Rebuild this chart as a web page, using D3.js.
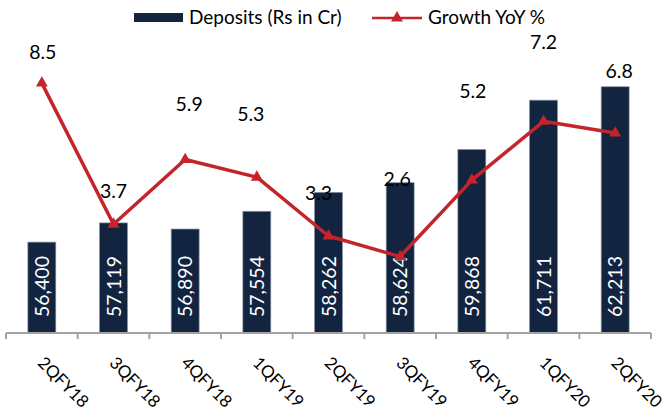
<!DOCTYPE html>
<html>
<head>
<meta charset="utf-8">
<script src="https://cdn.jsdelivr.net/npm/d3@7"></script>
<style>
  body { margin: 0; background: #fff; }
  svg { display: block; font-family: Lato, "Open Sans", sans-serif; }
</style>
</head>
<body>
<svg width="670" height="411"></svg>
<script>
// data
let quarters = ["2QFY18", "3QFY18", "4QFY18", "1QFY19", "2QFY19", "3QFY19", "4QFY19", "1QFY20", "2QFY20"];
let deposits = [56400, 57119, 56890, 57554, 58262, 58624, 59868, 61711, 62213];
let growth = [8.5, 3.7, 5.9, 5.3, 3.3, 2.6, 5.2, 7.2, 6.8];

// growth labels were moved by hand in the original, keep their offsets (px)
let labelDx = [1, 0, 4, -6, -10, -3, 1, 0, 4];
let labelDy = [-31, -33, -56, -63, -43, -78, -89, -79, -62];

let navy = "#12243f",
  red = "#c3252b";

let svg = d3.select("svg"),
  width = +svg.attr("width"),
  height = +svg.attr("height");

let baseY = 333, topY = 39;

let x = d3.scaleBand()
  .domain(quarters)
  .range([6, 651]);

let y = d3.scaleLinear()
  .domain([53000, 64000])
  .range([baseY, topY]);

let y2 = d3.scaleLinear()
  .domain([0, 10])
  .range([baseY, topY]);

let barW = x.bandwidth() * 0.39;
let cx = d => x(d) + x.bandwidth() / 2;

// bars
svg.selectAll(".bar")
  .data(quarters)
  .enter().append("rect")
  .attr("class", "bar")
  .attr("x", d => cx(d) - barW / 2)
  .attr("y", (d, i) => y(deposits[i]))
  .attr("width", barW)
  .attr("height", (d, i) => baseY - y(deposits[i]))
  .style("fill", navy)
  .style("stroke", "#8693a5")
  .style("stroke-width", 0.7);

// values inside bars
svg.selectAll(".barLabel")
  .data(quarters)
  .enter().append("text")
  .attr("class", "barLabel")
  .attr("transform", d => `translate(${cx(d)},317) rotate(-90)`)
  .attr("dy", "0.36em")
  .style("fill", "#fff")
  .style("font-size", "19.5px")
  .text((d, i) => d3.format(",")(deposits[i]));

// x axis
let xAxis = svg.append("g")
  .attr("transform", `translate(0,${baseY})`);

xAxis.append("line")
  .attr("x1", 6).attr("x2", 651)
  .style("stroke", "#a3a3a3")
  .style("stroke-width", 2);

xAxis.selectAll(".tick")
  .data(d3.range(quarters.length + 1))
  .enter().append("line")
  .attr("x1", i => 6 + i * x.step())
  .attr("x2", i => 6 + i * x.step())
  .attr("y1", 0).attr("y2", 6)
  .style("stroke", "#a3a3a3")
  .style("stroke-width", 2);

xAxis.selectAll(".xLabel")
  .data(quarters)
  .enter().append("text")
  .attr("class", "xLabel")
  .attr("transform", d => `translate(${cx(d) - 5},${31}) rotate(45)`)
  .style("font-size", "17px")
  .style("fill", "#000")
  .text(d => d);

// growth line
let line = d3.line()
  .x((d, i) => cx(quarters[i]))
  .y(d => y2(d));

svg.append("path")
  .datum(growth)
  .attr("d", line)
  .style("fill", "none")
  .style("stroke", red)
  .style("stroke-width", 3.5)
  .style("stroke-linejoin", "round");

let tri = d3.symbol().type(d3.symbolTriangle).size(62);

svg.selectAll(".marker")
  .data(growth)
  .enter().append("path")
  .attr("class", "marker")
  .attr("d", tri)
  .attr("transform", (d, i) => `translate(${cx(quarters[i])},${y2(d)})`)
  .style("fill", red);

svg.selectAll(".growthLabel")
  .data(growth)
  .enter().append("text")
  .attr("class", "growthLabel")
  .attr("x", (d, i) => cx(quarters[i]) + labelDx[i])
  .attr("y", (d, i) => y2(d) + labelDy[i])
  .attr("dy", "0.36em")
  .attr("text-anchor", "middle")
  .style("font-size", "19.5px")
  .style("fill", "#000")
  .text(d => d3.format(".1f")(d));

// legend
let legend = svg.append("g");

legend.append("rect")
  .attr("x", 134).attr("y", 13)
  .attr("width", 49).attr("height", 9)
  .style("fill", navy);

legend.append("text")
  .attr("x", 189).attr("y", 24)
  .style("font-size", "19px")
  .text("Deposits (Rs in Cr)");

legend.append("line")
  .attr("x1", 372).attr("x2", 422)
  .attr("y1", 18).attr("y2", 18)
  .style("stroke", red)
  .style("stroke-width", 2.5);

legend.append("path")
  .attr("d", tri)
  .attr("transform", "translate(397,18)")
  .style("fill", red);

legend.append("text")
  .attr("x", 428).attr("y", 24)
  .style("font-size", "19px")
  .text("Growth YoY %");
</script>
</body>
</html>
